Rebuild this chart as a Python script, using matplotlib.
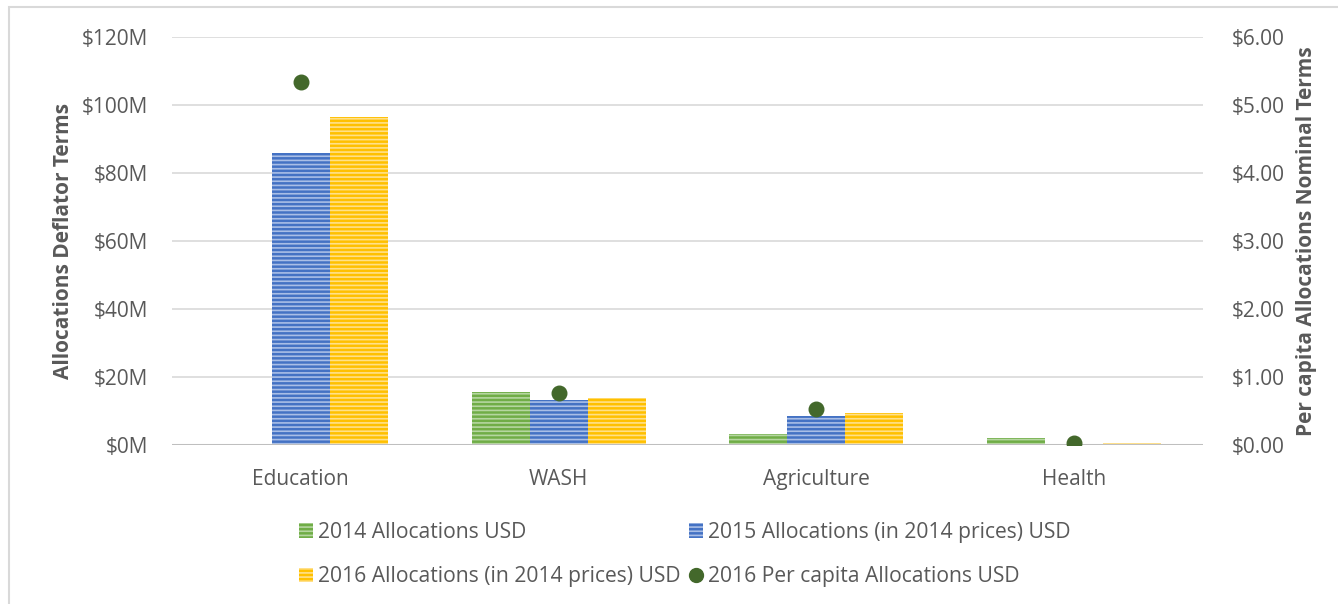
import matplotlib
matplotlib.use("Agg")
import matplotlib.pyplot as plt
from matplotlib.patches import Rectangle
from matplotlib.lines import Line2D
import numpy as np

# 데이터
categories = ["Education", "WASH", "Agriculture", "Health"]
alloc_2014 = [0.0, 15.7, 3.2, 2.2]          # 백만 USD
alloc_2015 = [85.9, 13.2, 8.5, 0.4]         # 백만 USD (2014 가격)
alloc_2016 = [96.5, 13.7, 9.5, 0.6]         # 백만 USD (2014 가격)
per_capita_2016 = [5.34, 0.77, 0.525, 0.025]  # USD

left_ticks = [0, 20, 40, 60, 80, 100, 120]
right_ticks = [0, 1, 2, 3, 4, 5, 6]

series_labels = [
    "2014 Allocations USD",
    "2015 Allocations (in 2014 prices) USD",
    "2016 Allocations (in 2014 prices) USD",
    "2016 Per capita Allocations USD",
]

# 스타일
plt.rcParams["font.family"] = ["Open Sans", "DejaVu Sans"]
plt.rcParams["hatch.linewidth"] = 1.2
text_color = "#595959"
green = "#70AD47"
blue = "#4472C4"
yellow = "#FFC000"
dot_color = "#43682B"
fs = 15

fig = plt.figure(figsize=(13.38, 6.04), dpi=100)
ax = fig.add_axes([172 / 1338, 1 - 445 / 604, (1203 - 172) / 1338, (445 - 37) / 604])
ax2 = ax.twinx()

x = np.arange(len(categories))
w = 0.225
bar_series = [
    (alloc_2014, green, "#B5D6A0"),
    (alloc_2015, blue, "#A9BEE6"),
    (alloc_2016, yellow, "#FFE08A"),
]
for i, (vals, col, light) in enumerate(bar_series):
    ax.bar(x + (i - 1) * w, vals, width=w, color=col, edgecolor=light,
           linewidth=0, hatch="----", zorder=3)

ax2.scatter(x, per_capita_2016, s=110, color=dot_color, zorder=5)

# 축 설정
ax.set_xlim(-0.5, len(categories) - 0.5)
ax.set_ylim(0, 120)
ax2.set_ylim(0, 6)
ax.set_yticks(left_ticks)
ax.set_yticklabels([f"${v}M" for v in left_ticks])
ax2.set_yticks(right_ticks)
ax2.set_yticklabels([f"${v:.2f}" for v in right_ticks])
ax.set_xticks(x)
ax.set_xticklabels(categories)

for a in (ax, ax2):
    for s in a.spines.values():
        s.set_visible(False)
    a.tick_params(axis="both", length=0, labelsize=fs, colors=text_color)
ax.tick_params(axis="x", pad=17)
ax.tick_params(axis="y", pad=17)
ax2.tick_params(axis="y", pad=21)

ax.grid(axis="y", color="#D9D9D9", linewidth=1.2, zorder=0)
ax.set_axisbelow(True)
ax.axhline(0, color="#BFBFBF", linewidth=2.2, zorder=4)

ax.set_ylabel("Allocations Deflator Terms", fontsize=fs, fontweight="bold",
              color=text_color, labelpad=6)
ax2.set_ylabel("Per capita Allocations Nominal Terms", fontsize=fs,
               fontweight="bold", color=text_color, labelpad=8)

# 범례 (행 순서대로 보이도록 배치)
def bar_handle(col, light):
    return Rectangle((0, 0), 1, 1, facecolor=col, edgecolor=light,
                     linewidth=0, hatch="----")

handles = [
    bar_handle(green, "#B5D6A0"),
    bar_handle(yellow, "#FFE08A"),
    bar_handle(blue, "#A9BEE6"),
    Line2D([], [], marker="o", linestyle="none", color=dot_color, markersize=10),
]
labels = [series_labels[0], series_labels[2], series_labels[1], series_labels[3]]
leg_fs = 15.2
leg = fig.legend(handles, labels, ncol=2, loc="upper left",
                 bbox_to_anchor=(299 / 1338, 1 - 522 / 604), frameon=False,
                 fontsize=leg_fs, handlelength=0.66, handleheight=0.66,
                 handletextpad=0.25, columnspacing=0.38, labelspacing=1.1,
                 borderpad=0, borderaxespad=0)
for t in leg.get_texts():
    t.set_color(text_color)

# 바깥 테두리
fig.patches.append(Rectangle((9 / 1338, -0.1), 1.2, 1 - 7 / 604 + 0.1,
                             transform=fig.transFigure, fill=False,
                             edgecolor="#D9D9D9", linewidth=1.5))

fig.savefig("out.png", dpi=100)
